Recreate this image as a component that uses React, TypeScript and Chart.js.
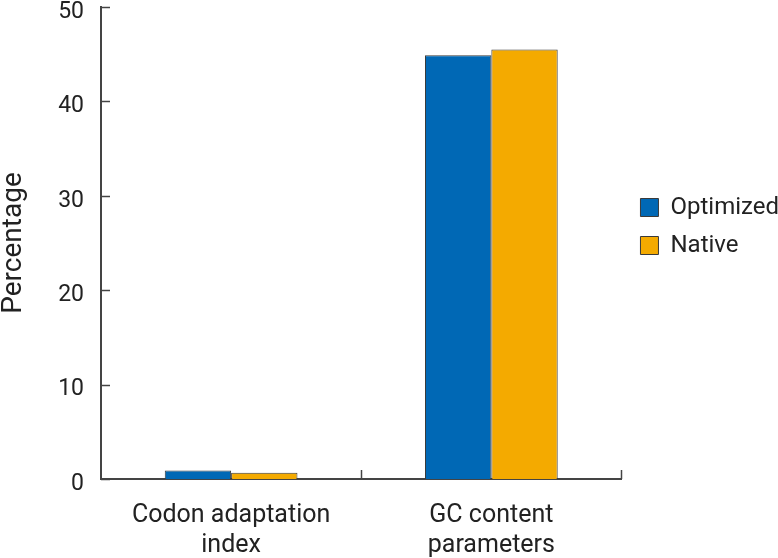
import React, { useEffect, useRef } from "react";
import { Chart, registerables } from "chart.js";

Chart.register(...registerables);

const categories: string[][] = [["Codon adaptation", "index"], ["GC content", "parameters"]];
const seriesNames = ["Optimized", "Native"];
const optimizedValues = [0.9, 44.9];
const nativeValues = [0.65, 45.5];
const yMin = 0;
const yMax = 50;
const yStep = 10;

const FONT = "Roboto, 'Liberation Sans', Arial, sans-serif";
const AXIS_COLOR = "#444444";

const inwardTicks = {
  id: "inwardTicks",
  afterDraw(chart: any) {
    const { ctx, chartArea, scales } = chart;
    const y = scales.y;
    const x = scales.x;
    ctx.save();
    ctx.strokeStyle = AXIS_COLOR;
    ctx.lineWidth = 1.5;
    y.ticks.forEach((t: any) => {
      const py = Math.round(y.getPixelForValue(t.value)) + 0.5;
      ctx.beginPath();
      ctx.moveTo(chartArea.left, py);
      ctx.lineTo(chartArea.left + 9, py);
      ctx.stroke();
    });
    for (let i = 1; i <= categories.length; i++) {
      const px = Math.round(x.getPixelForValue(i - 0.5)) + 0.5;
      ctx.beginPath();
      ctx.moveTo(px, chartArea.bottom);
      ctx.lineTo(px, chartArea.bottom - 9);
      ctx.stroke();
    }
    ctx.restore();
  },
};

const legendShift = {
  id: "legendShift",
  afterLayout(chart: any) {
    const lg = chart.legend;
    if (lg) {
      const dx = chart.chartArea.right + 5 - lg.left;
      lg.bottom -= 112;
      lg.left += dx;
      lg.right += dx;
    }
  },
};

export default function App() {
  const ref = useRef<HTMLCanvasElement | null>(null);
  useEffect(() => {
    if (!ref.current) return;
    const chart = new Chart(ref.current, {
      type: "bar",
      data: {
        labels: categories,
        datasets: [
          {
            label: seriesNames[0],
            data: optimizedValues,
            backgroundColor: "#0068b5",
            borderColor: "#3a3a3a",
            borderWidth: 1,
          },
          {
            label: seriesNames[1],
            data: nativeValues,
            backgroundColor: "#f4aa00",
            borderColor: "#3a3a3a",
            borderWidth: 1,
          },
        ],
      },
      options: {
        responsive: false,
        animation: false,
        devicePixelRatio: 1,
        layout: { padding: { left: 0, top: 7, right: -6, bottom: 0 } },
        datasets: {
          bar: { categoryPercentage: 0.51, barPercentage: 1 },
        },
        plugins: {
          tooltip: { enabled: false },
          legend: {
            position: "right",
            align: "center",
            labels: {
              boxWidth: 18,
              boxHeight: 18,
              padding: 14,
              color: "#222222",
              font: { family: FONT, size: 24 },
            },
          },
        },
        scales: {
          x: {
            type: "category",
            offset: true,
            grid: { display: false, drawTicks: false },
            border: { display: true, color: AXIS_COLOR, width: 2 },
            ticks: {
              color: "#222222",
              padding: 22,
              maxRotation: 0,
              autoSkip: false,
              font: { family: FONT, size: 25, lineHeight: 1.2 },
            },
            afterFit: (s: any) => {
              s.height = 79;
              s.paddingLeft = 0;
              s.paddingRight = 0;
            },
          },
          y: {
            min: yMin,
            max: yMax,
            grid: { display: false, drawTicks: false },
            border: { display: true, color: AXIS_COLOR, width: 2 },
            ticks: {
              stepSize: yStep,
              color: "#222222",
              padding: 17,
              labelOffset: 5,
              font: { family: FONT, size: 23 },
            },
            title: {
              display: true,
              text: "Percentage",
              color: "#222222",
              padding: { top: -3, bottom: 0 },
              font: { family: FONT, size: 28 },
            },
            afterFit: (s: any) => {
              s.width = 101;
              s.paddingTop = 0;
              s.paddingBottom = 0;
            },
          },
        },
      },
      plugins: [inwardTicks, legendShift],
    });
    return () => chart.destroy();
  }, []);
  return (
    <div style={{ position: "fixed", left: 0, top: 0, width: 778, height: 558, background: "#fff" }}>
      <canvas ref={ref} width={778} height={558} />
    </div>
  );
}
